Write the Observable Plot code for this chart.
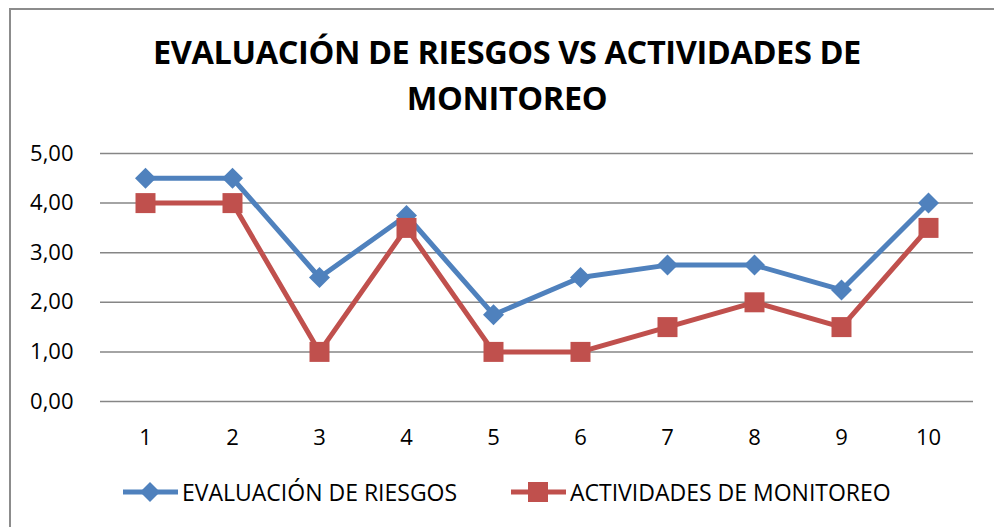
<!DOCTYPE html>
<html>
<head>
<meta charset="utf-8">
<script src="https://cdn.jsdelivr.net/npm/d3@7"></script>
<script src="https://cdn.jsdelivr.net/npm/@observablehq/plot@0.6"></script>
<style>
  html, body { margin: 0; padding: 0; background: #fff; overflow: hidden; }
  #wrap { position: relative; width: 994px; height: 527px; overflow: hidden; font-family: "Open Sans", sans-serif; }
  #frame { position: absolute; left: 9px; top: 8px; width: 1100px; height: 700px; border: 2px solid #8c8c8c; box-sizing: border-box; }
  #title { position: absolute; left: 10px; width: 994px; top: 29px; text-align: center; font-weight: 700; font-size: 32.5px; line-height: 46px; color: #000; letter-spacing: -0.4px; }
  #chart { position: absolute; left: 0; top: 0; }
  #legend { position: absolute; top: 477px; left: 0; width: 994px; height: 30px; font-size: 23px; color: #000; }
  .item { position: absolute; top: 0; display: flex; align-items: center; height: 30px; }
  .item svg { display: block; }
  .item span { margin-left: 3px; white-space: nowrap; }
</style>
</head>
<body>
<div id="wrap">
  <div id="frame"></div>
  <div id="chart"></div>
  <div id="title">EVALUACIÓN DE RIESGOS VS ACTIVIDADES DE<br>MONITOREO</div>
  <div id="legend"></div>
</div>
<script>
const categories = [1, 2, 3, 4, 5, 6, 7, 8, 9, 10];
const evaluacion = [4.5, 4.5, 2.5, 3.75, 1.75, 2.5, 2.75, 2.75, 2.25, 4.0];
const actividades = [4.0, 4.0, 1.0, 3.5, 1.0, 1.0, 1.5, 2.0, 1.5, 3.5];
const yTicks = [0, 1, 2, 3, 4, 5];
const seriesNames = ["EVALUACIÓN DE RIESGOS", "ACTIVIDADES DE MONITOREO"];
const colors = ["#4F81BD", "#C0504D"];

const diamond = {
  draw(ctx, size) {
    const r = Math.sqrt(size / Math.PI);
    ctx.moveTo(0, -r); ctx.lineTo(r, 0); ctx.lineTo(0, r); ctx.lineTo(-r, 0); ctx.closePath();
  }
};
const square = {
  draw(ctx, size) {
    const r = Math.sqrt(size / Math.PI);
    ctx.rect(-r, -r, 2 * r, 2 * r);
  }
};

const blue = categories.map((c, i) => ({x: c, y: evaluacion[i]}));
const red = categories.map((c, i) => ({x: c, y: actividades[i]}));
const fmt = v => d3.format(".2f")(v).replace(".", ",");

const plot = Plot.plot({
  width: 994,
  height: 527,
  marginTop: 153,
  marginBottom: 126,
  marginLeft: 100,
  marginRight: 21,
  style: {background: "transparent", fontFamily: "Open Sans, sans-serif", fontSize: "22px", color: "#000"},
  x: {type: "point", domain: categories, padding: 0.5, label: null},
  y: {domain: [0, 5], label: null},
  marks: [
    Plot.ruleY(yTicks, {stroke: "#868686", strokeWidth: 1.5}),
    Plot.axisX({tickSize: 0, tickPadding: 28, fontSize: 22, fill: "#000", label: null}),
    Plot.axisY({tickSize: 0, tickPadding: 27, fontSize: 22, fill: "#000", tickFormat: fmt, ticks: yTicks, label: null}),
    Plot.line(blue, {x: "x", y: "y", stroke: colors[0], strokeWidth: 5}),
    Plot.dot(blue, {x: "x", y: "y", symbol: diamond, r: 10.5, fill: colors[0], stroke: "none"}),
    Plot.line(red, {x: "x", y: "y", stroke: colors[1], strokeWidth: 5}),
    Plot.dot(red, {x: "x", y: "y", symbol: square, r: 10, fill: colors[1], stroke: "none"})
  ]
});
document.getElementById("chart").appendChild(plot);

// Legend
const legend = document.getElementById("legend");
const legendX = [122, 510];
seriesNames.forEach((name, i) => {
  const item = document.createElement("div");
  item.className = "item";
  item.style.left = legendX[i] + "px";
  const mk = i === 0
    ? `<polygon points="28,5 38,15 28,25 18,15" fill="${colors[0]}"/>`
    : `<rect x="18" y="5" width="20" height="20" fill="${colors[1]}"/>`;
  item.innerHTML = `<svg width="57" height="30"><line x1="1" y1="15" x2="56" y2="15" stroke="${colors[i]}" stroke-width="5"/>${mk}</svg><span>${name}</span>`;
  legend.appendChild(item);
});
</script>
</body>
</html>
